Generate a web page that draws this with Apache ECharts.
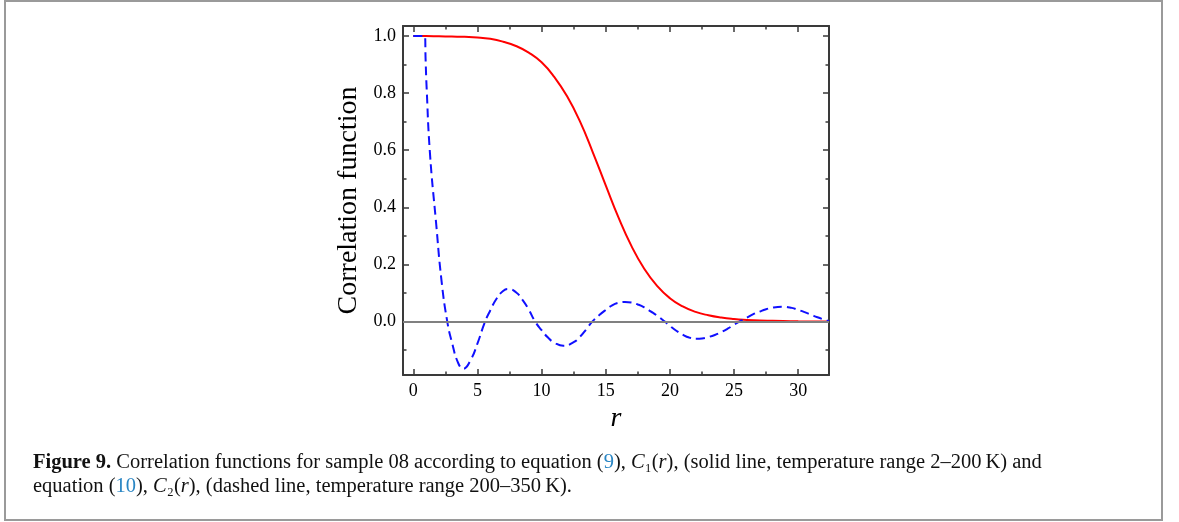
<!DOCTYPE html>
<html><head><meta charset="utf-8">
<script src="https://cdn.jsdelivr.net/npm/echarts@6/dist/echarts.min.js"></script>
<style>html,body{margin:0;padding:0;background:#fff}#c{width:1179px;height:522px}</style>
</head><body><div id="c"></div>
<script>
// C1(r): solid red
const c1R = [0, 1, 2, 3, 4, 5, 6, 7, 8, 9, 10, 11, 12, 13, 14, 15, 16, 17, 18, 19, 20, 21, 22, 23, 24, 25, 26, 27, 28, 30, 32.4];
const c1V = [1.0, 1.0, 0.999, 0.998, 0.997, 0.995, 0.99, 0.98, 0.965, 0.942, 0.908, 0.856, 0.788, 0.70, 0.592, 0.477, 0.364, 0.265, 0.185, 0.125, 0.082, 0.053, 0.034, 0.022, 0.014, 0.009, 0.006, 0.004, 0.003, 0.001, 0.0];
// C2(r): dashed blue
const c2R = [0, 0.9, 0.96, 1.04, 1.3, 1.77, 2.21, 2.65, 3.0, 3.5, 3.9, 4.5, 5.0, 5.6, 6.0, 6.5, 7.0, 7.4, 8.0, 8.5, 9.0, 9.5, 10.0, 10.5, 11.0, 11.7, 12.5, 13.0, 13.5, 13.95, 14.5, 15.0, 15.5, 16.0, 16.5, 17.0, 17.5, 18.0, 18.5, 19.0, 19.6, 20.0, 20.5, 21.0, 21.5, 22.1, 22.5, 23.0, 23.5, 24.0, 24.5, 25.0, 25.4, 26.0, 26.5, 27.0, 27.5, 28.0, 28.8, 29.5, 30.0, 30.5, 31.0, 31.5, 32.0, 32.4];
const c2V = [1.0, 1.0, 0.92, 0.82, 0.59, 0.35, 0.14, 0.0, -0.07, -0.145, -0.165, -0.132, -0.077, 0.0, 0.039, 0.081, 0.107, 0.114, 0.103, 0.077, 0.042, 0.0, -0.03, -0.056, -0.074, -0.085, -0.072, -0.053, -0.026, 0.0, 0.023, 0.041, 0.057, 0.066, 0.069, 0.067, 0.06, 0.05, 0.036, 0.021, 0.0, -0.015, -0.032, -0.046, -0.056, -0.06, -0.059, -0.054, -0.047, -0.037, -0.025, -0.011, 0.0, 0.014, 0.026, 0.035, 0.043, 0.049, 0.052, 0.048, 0.041, 0.033, 0.024, 0.015, 0.007, 0.001];
// axis ticks
const xMajorTicks = [0, 5, 10, 15, 20, 25, 30];
const xMinorTicks = [2.5, 7.5, 12.5, 17.5, 22.5, 27.5];
const yMajorTicks = [0, 0.2, 0.4, 0.6, 0.8, 1.0];
const yMinorTicks = [-0.1, 0.1, 0.3, 0.5, 0.7, 0.9];
const xRange = [-0.8, 32.4];
const yRange = [-0.187, 1.035];
const zeroLevel = 0;

const serif = 'Liberation Serif';
const axisColor = '#3a3a3a';

function xAx(pos, major, showLine, showLabel, name) {
  return {
    type: 'value', position: pos, min: xRange[0], max: xRange[1],
    name: name || '', nameLocation: 'middle', nameGap: 22,
    nameTextStyle: {fontFamily: serif, fontStyle: 'italic', fontSize: 28, color: '#000'},
    axisLine: {show: showLine, onZero: false, lineStyle: {color: axisColor, width: 2}},
    axisTick: {show: true, inside: true, length: major ? 6 : 3.5, customValues: major ? xMajorTicks : xMinorTicks, lineStyle: {color: axisColor, width: 1.5}},
    axisLabel: {show: showLabel, customValues: xMajorTicks, margin: 7, fontFamily: serif, fontSize: 18, color: '#000'},
    splitLine: {show: false}
  };
}
function yAx(pos, major, showLine, showLabel, name) {
  return {
    type: 'value', position: pos, min: yRange[0], max: yRange[1],
    name: name || '', nameLocation: 'middle', nameGap: 40, nameRotate: 90,
    nameTextStyle: {fontFamily: serif, fontSize: 28, color: '#000'},
    axisLine: {show: showLine, onZero: false, lineStyle: {color: axisColor, width: 2}},
    axisTick: {show: true, inside: true, length: major ? 6 : 3.5, customValues: major ? yMajorTicks : yMinorTicks, lineStyle: {color: axisColor, width: 1.5}},
    axisLabel: {show: showLabel, customValues: yMajorTicks, margin: 7, fontFamily: serif, fontSize: 18, color: '#000', formatter: v => v.toFixed(1)},
    splitLine: {show: false}
  };
}

const caption = '{b|Figure 9.} Correlation functions for sample 08 according to equation ({l|9}), {i|C}\u2081({i|r}), (solid line, temperature range 2\u2013200\u2009K) and\n' +
  'equation ({l|10}), {i|C}\u2082({i|r}), (dashed line, temperature range 200\u2013350\u2009K).';

const chart = echarts.init(document.getElementById('c'));
chart.setOption({
  animation: false,
  backgroundColor: '#fff',
  grid: {left: 403, right: 350, top: 26, bottom: 147},
  xAxis: [xAx('bottom', true, true, true, 'r'), xAx('bottom', false, false, false), xAx('top', true, true, false), xAx('top', false, false, false)],
  yAxis: [yAx('left', true, true, true, 'Correlation function'), yAx('left', false, false, false), yAx('right', true, true, false), yAx('right', false, false, false)],
  graphic: [
    {type: 'rect', silent: true, shape: {x: 5, y: 1, width: 1157, height: 519}, style: {fill: 'none', stroke: '#9a9a9a', lineWidth: 2}},
    {type: 'text', left: 33, top: 451, silent: true,
     style: {text: caption, fontFamily: serif, fontSize: 20.5, lineHeight: 24, fill: '#111',
       rich: {
         b: {fontFamily: serif, fontSize: 20.5, fontWeight: 'bold', fill: '#111'},
         l: {fontFamily: serif, fontSize: 20.5, fill: '#2a86c4'},
         i: {fontFamily: serif, fontSize: 20.5, fontStyle: 'italic', fill: '#111'}
       }}}
  ],
  series: [
    {type: 'line', name: 'zero', data: [], silent: true,
     markLine: {silent: true, symbol: 'none', label: {show: false}, animation: false,
       lineStyle: {color: '#808080', width: 2, type: 'solid'}, data: [{yAxis: zeroLevel}]}},
    {type: 'line', name: 'C1', data: c1R.map((r, i) => [r, c1V[i]]), showSymbol: false, smooth: true,
     lineStyle: {color: '#ff0000', width: 2}, itemStyle: {color: '#ff0000'}},
    {type: 'line', name: 'C2', data: c2R.map((r, i) => [r, c2V[i]]), showSymbol: false, smooth: true,
     lineStyle: {color: '#1010ff', width: 2, type: [9, 5]}, itemStyle: {color: '#1010ff'}}
  ]
});
</script>
</body></html>
